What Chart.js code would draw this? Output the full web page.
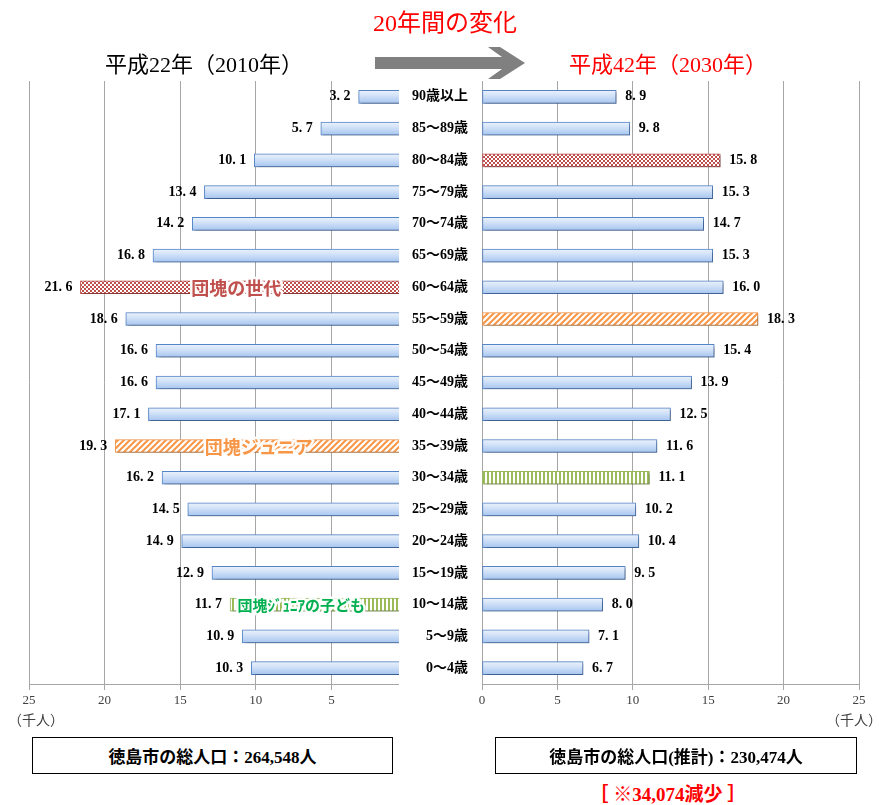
<!DOCTYPE html>
<html>
<head>
<meta charset="utf-8">
<script src="https://cdn.jsdelivr.net/npm/chart.js@4"></script>
<style>
  body { margin: 0; background: #fff; width: 879px; height: 805px; position: relative; overflow: hidden;
         font-family: 'Liberation Serif', 'Noto Sans CJK JP', serif; }
  canvas { position: absolute; top: 0; }
  #left { left: 0; }
  #right { left: 399px; background: #fff; }
  .t { position: absolute; white-space: nowrap; z-index: 5; }
  .c { transform: translate(-50%, -50%); }
  .box { position: absolute; top: 737px; height: 35px; border: 1px solid #000; z-index: 5;
         display: flex; align-items: center; justify-content: center; font-weight: bold; font-size: 17px; }
</style>
</head>
<body>
<canvas id="left" width="420" height="730"></canvas>
<canvas id="right" width="480" height="730"></canvas>

<div class="t c" style="left:445px;top:20px;font-size:24px;color:#ff0000;">20年間の変化</div>
<div class="t c" style="left:204px;top:62px;font-size:22px;color:#000;">平成22年（2010年）</div>
<div class="t c" style="left:668px;top:62px;font-size:22px;color:#ff0000;">平成42年（2030年）</div>
<svg class="t" style="left:372px;top:46px;" width="160" height="34">
  <polygon points="3,11 130,11 116,1 128,1 153,17 128,33 116,33 130,23 3,23" fill="#808080"/>
</svg>
<div class="t" style="left:8px;top:709px;font-size:14px;color:#404040;">（千人）</div>
<div class="t" style="left:826px;top:709px;font-size:14px;color:#404040;">（千人）</div>
<div class="box" style="left:32px;width:359px;">徳島市の総人口：264,548人</div>
<div class="box" style="left:495px;width:360px;">徳島市の総人口(推計)：230,474人</div>
<div class="t c" style="left:668px;top:792px;font-size:19px;font-weight:bold;color:#ff0000;">［ ※34,074減少 ］</div>

<script>
const ageGroups = ['90歳以上', '85〜89歳', '80〜84歳', '75〜79歳', '70〜74歳', '65〜69歳', '60〜64歳',
  '55〜59歳', '50〜54歳', '45〜49歳', '40〜44歳', '35〜39歳', '30〜34歳', '25〜29歳', '20〜24歳',
  '15〜19歳', '10〜14歳', '5〜9歳', '0〜4歳'];
const pop2010 = [3.2, 5.7, 10.1, 13.4, 14.2, 16.8, 21.6, 18.6, 16.6, 16.6, 17.1, 19.3, 16.2, 14.5, 14.9, 12.9, 11.7, 10.9, 10.3];
const pop2030 = [8.9, 9.8, 15.8, 15.3, 14.7, 15.3, 16.0, 18.3, 15.4, 13.9, 12.5, 11.6, 11.1, 10.2, 10.4, 9.5, 8.0, 7.1, 6.7];
const axisTicks = [0, 5, 10, 15, 20, 25];

// which rows get the pattern fills
const special2010 = { '60〜64歳': 'check', '35〜39歳': 'hatch', '10〜14歳': 'stripe' };
const special2030 = { '80〜84歳': 'check', '55〜59歳': 'hatch', '30〜34歳': 'stripe' };
const notes2010 = [
  { age: '60〜64歳', text: '団塊の世代', at: 11.3, color: '#c0504d', size: 18 },
  { age: '35〜39歳', text: '団塊ジュニア', at: 9.8, color: '#f79646', size: 18 },
  { age: '10〜14歳', text: '団塊ｼﾞｭﾆｱの子ども', at: 7.0, color: '#00b050', size: 15 }
];

const RED = '#c0504d', ORANGE = '#f79646', GREEN = '#9bbb59', BLUE_LINE = '#5585c9';

function tile(w, h, draw) {
  const c = document.createElement('canvas');
  c.width = w; c.height = h;
  const g = c.getContext('2d');
  g.fillStyle = '#fff';
  g.fillRect(0, 0, w, h);
  draw(g);
  return g.createPattern(c, 'repeat');
}
const patterns = {
  check: tile(4, 4, g => { g.fillStyle = RED; g.fillRect(0, 0, 2, 2); g.fillRect(2, 2, 2, 2); }),
  hatch: tile(6, 6, g => {
    g.strokeStyle = ORANGE; g.lineWidth = 2;
    g.beginPath();
    g.moveTo(-1, 7); g.lineTo(7, -1);
    g.moveTo(-1, 1); g.lineTo(1, -1);
    g.moveTo(5, 7); g.lineTo(7, 5);
    g.stroke();
  }),
  stripe: tile(4, 4, g => { g.fillStyle = GREEN; g.fillRect(0, 0, 2, 4); })
};
const edge = { check: RED, hatch: ORANGE, stripe: GREEN };

function barFill(special) {
  return ctx => {
    const kind = special[ageGroups[ctx.dataIndex]];
    if (kind) return patterns[kind];
    const chart = ctx.chart;
    const y = chart.scales.y ? chart.scales.y.getPixelForValue(ctx.dataIndex) : NaN;
    if (!isFinite(y)) return '#c6d9f1';
    const gr = chart.ctx.createLinearGradient(0, y - 7, 0, y + 7);
    gr.addColorStop(0, '#eef4fc');
    gr.addColorStop(0.45, '#cfe0f7');
    gr.addColorStop(1, '#a3c3ef');
    return gr;
  };
}
function barEdge(special) {
  return ctx => edge[special[ageGroups[ctx.dataIndex]]] || BLUE_LINE;
}

const shadowPlugin = {
  id: 'shadow',
  beforeDatasetsDraw(chart) {
    const c = chart.ctx;
    c.save();
    c.shadowColor = 'rgba(0,0,0,0.35)';
    c.shadowBlur = 3;
    c.shadowOffsetX = 2;
    c.shadowOffsetY = 2;
  },
  afterDatasetsDraw(chart) { chart.ctx.restore(); }
};

const labelPlugin = {
  id: 'valueLabels',
  afterDraw(chart, args, opts) {
    const c = chart.ctx;
    const meta = chart.getDatasetMeta(0);
    const vals = chart.data.datasets[0].data;
    c.save();
    c.font = 'bold 14px "Liberation Serif", serif';
    c.fillStyle = '#000';
    c.textBaseline = 'middle';
    meta.data.forEach((bar, i) => {
      const txt = vals[i].toFixed(1).replace('.', '. ');
      if (opts.side === 'left') {
        c.textAlign = 'right';
        c.fillText(txt, bar.x - 8, bar.y);
      } else {
        c.textAlign = 'left';
        c.fillText(txt, bar.x + 9, bar.y);
      }
    });
    // notes written over the left-hand bars
    (opts.notes || []).forEach(n => {
      const y = chart.scales.y.getPixelForValue(ageGroups.indexOf(n.age));
      const x = chart.scales.x.getPixelForValue(n.at);
      c.font = 'bold ' + n.size + 'px "Noto Sans CJK JP", sans-serif';
      c.textAlign = 'center';
      c.lineJoin = 'round';
      c.strokeStyle = 'rgba(255,255,255,0.95)';
      c.lineWidth = 5;
      c.strokeText(n.text, x, y + 1);
      c.fillStyle = n.color;
      c.fillText(n.text, x, y + 1);
    });
    c.restore();
  }
};

function xAxis(reverse) {
  return {
    type: 'linear', min: 0, max: 25, reverse: reverse,
    afterBuildTicks: s => { s.ticks = axisTicks.map(v => ({ value: v })); },
    afterFit: s => { s.height = 46; },
    grid: { color: '#a6a6a6', lineWidth: 1, tickLength: 6 },
    border: { color: '#a6a6a6' },
    ticks: { color: '#404040', padding: 3, font: { size: 13, family: 'Liberation Serif' } }
  };
}

Chart.defaults.animation = false;

new Chart(document.getElementById('left'), {
  type: 'bar',
  data: {
    labels: ageGroups,
    datasets: [{ data: pop2010, backgroundColor: barFill(special2010), borderColor: barEdge(special2010),
                 borderWidth: 1, borderSkipped: false, barThickness: 13 }]
  },
  options: {
    indexAxis: 'y', responsive: false,
    layout: { padding: { left: 29, right: 13, top: 81, bottom: 0 } },
    plugins: { legend: { display: false }, tooltip: { enabled: false },
               valueLabels: { side: 'left', notes: notes2010 } },
    scales: { x: xAxis(true), y: { display: false } }
  },
  plugins: [shadowPlugin, labelPlugin]
});

new Chart(document.getElementById('right'), {
  type: 'bar',
  data: {
    labels: ageGroups,
    datasets: [{ data: pop2030, backgroundColor: barFill(special2030), borderColor: barEdge(special2030),
                 borderWidth: 1, borderSkipped: false, barThickness: 13 }]
  },
  options: {
    indexAxis: 'y', responsive: false,
    layout: { padding: { left: 0, right: 20, top: 81, bottom: 0 } },
    plugins: { legend: { display: false }, tooltip: { enabled: false }, valueLabels: { side: 'right' } },
    scales: {
      x: xAxis(false),
      y: {
        afterFit: s => { s.width = 83; },
        grid: { display: false, drawTicks: false },
        border: { display: false },
        ticks: { color: '#000', padding: 14, font: { size: 14, weight: 'bold', family: "'Liberation Serif', 'Noto Sans CJK JP'" } }
      }
    }
  },
  plugins: [shadowPlugin, labelPlugin]
});
</script>
</body>
</html>
